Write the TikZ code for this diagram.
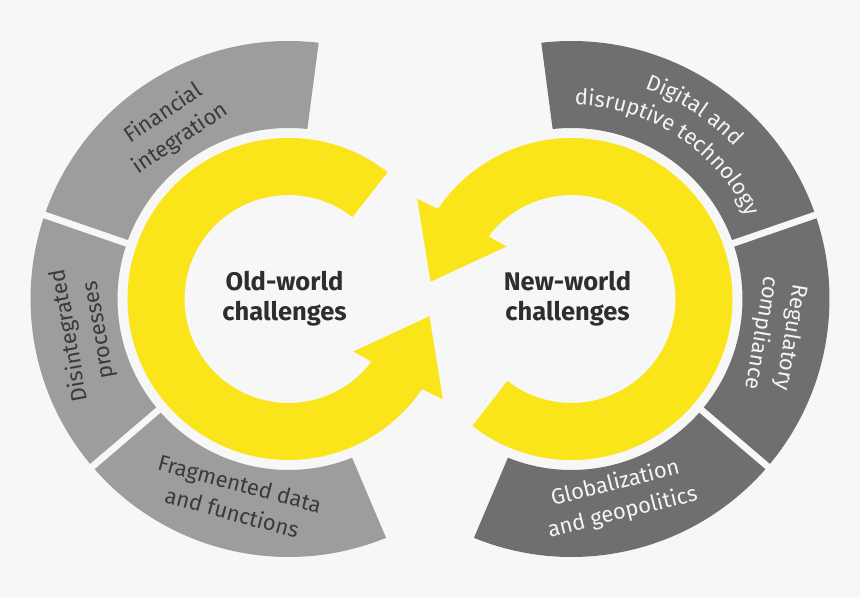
\documentclass[tikz,border=0pt]{standalone}
\usepackage{fontspec}
\setmainfont{Fira Sans}
\usepackage{tikz}
\usetikzlibrary{calc,decorations.text}
\definecolor{ringYellow}{HTML}{F9E51A}
\definecolor{oldGray}{HTML}{9D9D9C}
\definecolor{newGray}{HTML}{6F6F6F}
\definecolor{bgGray}{HTML}{F7F7F7}
\definecolor{oldInk}{HTML}{3A3A3A}
\definecolor{newInk}{HTML}{F4F4F4}
\definecolor{hubInk}{HTML}{2E2E2E}

\begin{document}
\begin{tikzpicture}[x=1pt, y=1pt,
    segtext/.style={font=\fontsize{22}{30}\selectfont, align=center, inner sep=0pt},
    hubtext/.style={font=\fontsize{25.5}{30}\selectfont\bfseries, align=center, text=hubInk, inner sep=0pt},
  ]
  \fill[bgGray] (0,0) rectangle (860,598);
  \useasboundingbox (0,0) rectangle (860,598);
  \coordinate (L) at (288.5,299);
  \coordinate (R) at (571.5,299);

  \foreach \c/\a/\b/\col in {L/82.5/161/oldGray, L/161/220.5/oldGray, L/220.5/293/oldGray,
      R/19/97.5/newGray, R/-40.5/19/newGray, R/-113/-40.5/newGray}
    \fill[\col] ($(\c)+(\a+0.78:258pt)$) arc[start angle=\a+0.78, end angle=\b-0.78, radius=258pt]
      -- ($(\c)+(\b-1.17:171pt)$) arc[start angle=\b-1.17, end angle=\a+1.17, radius=171pt] -- cycle;

  \foreach \c/\r in {L/0, R/180}
    \fill[ringYellow] ($(\c)+(\r+52:161pt)$) arc[start angle=\r+52, end angle=\r+326, radius=161pt]
      -- ($(\c)+(\r+327:184pt)$) -- ($(\c)+(\r+353:142pt)$) -- ($(\c)+(\r+321:83.5pt)$)
      -- ($(\c)+(\r+323:104pt)$) arc[start angle=\r+323, end angle=\r+52, radius=104pt] -- cycle;

  \node[segtext, text=oldInk, rotate=34]    (fin)  at (172,472) {Financial\\integration};
  \node[segtext, text=oldInk, rotate=100]   (dis)  at (84.5,265) {Disintegrated\\processes};
  \node[segtext, text=oldInk, rotate=-15]   (frag) at (236,100) {Fragmented data\\and functions};
  \node[segtext, text=newInk, rotate=-99.5] (reg)  at (776,263) {Regulatory\\compliance};
  \node[segtext, text=newInk, rotate=14]    (glob) at (619,100) {Globalization\\and geopolitics};
  \path[decorate, decoration={text along path, text align=center, text color=newInk,
      text={|\fontsize{22}{30}\selectfont|Digital and}}]
    ($(R)+(97:223pt)$) arc[start angle=97, end angle=17, radius=223pt];
  \path[decorate, decoration={text along path, text align=center, text color=newInk,
      text={|\fontsize{22}{30}\selectfont|disruptive technology}}]
    ($(R)+(97:194pt)$) arc[start angle=97, end angle=17, radius=194pt];

  \node[hubtext] (old) at (284.5,299) {Old-world\\challenges};
  \node[hubtext] (new) at (567.5,299) {New-world\\challenges};
\end{tikzpicture}
\end{document}
